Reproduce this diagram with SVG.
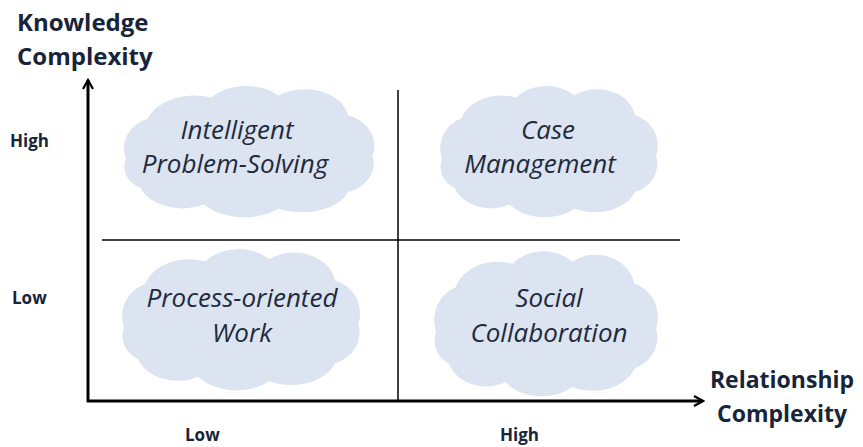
<svg xmlns="http://www.w3.org/2000/svg" width="863" height="447" viewBox="0 0 863 447">
<style>
.cloud{fill:#dbe4f0;}
.ct{font-family:"Open Sans","Liberation Sans",sans-serif;font-style:italic;font-size:26px;fill:#1f2a3c;text-anchor:middle;}
.ax{font-family:"Open Sans","Liberation Sans",sans-serif;font-weight:bold;font-size:24px;fill:#17243a;}
.axr{font-family:"Open Sans","Liberation Sans",sans-serif;font-weight:bold;font-size:23px;fill:#17243a;text-anchor:middle;}
.tk{font-family:"Open Sans","Liberation Sans",sans-serif;font-weight:bold;font-size:17px;fill:#17243a;}
.ln{stroke:#000;stroke-width:1.5;fill:none;}
.axis{stroke:#000;stroke-width:3;fill:none;}
</style>
<defs>
<path id="cl" d="M -100,8 A 30 30 0 0 1 -82,-30 A 40 32 0 0 1 -30,-50 A 36 28 0 0 1 25,-52 A 36 30 0 0 1 82,-33 A 28 30 0 0 1 102,6 A 30 28 0 0 1 82,40 A 40 28 0 0 1 25,56 A 40 28 0 0 1 -36,52 A 36 28 0 0 1 -88,36 A 22 22 0 0 1 -100,8 Z"/>
<marker id="ah" viewBox="0 0 12 12" refX="10" refY="6" markerWidth="12" markerHeight="12" markerUnits="userSpaceOnUse" orient="auto">
<path d="M 1,1 L 10,6 L 1,11" fill="none" stroke="#000" stroke-width="2.2"/>
</marker>
</defs>
<g id="connectors">
<line class="axis" x1="88" y1="402" x2="88" y2="80" marker-end="url(#ah)"/>
<line class="axis" x1="87" y1="401" x2="703" y2="401" marker-end="url(#ah)"/>
<line class="ln" x1="398" y1="90" x2="398" y2="401"/>
<line class="ln" x1="102" y1="240" x2="680" y2="240"/>
</g>
<g id="axis-y-label">
<text class="ax" x="17" y="31">Knowledge</text>
<text class="ax" x="17" y="65">Complexity</text>
</g>
<g id="axis-x-label">
<text class="axr" x="782" y="388">Relationship</text>
<text class="axr" x="782" y="422">Complexity</text>
</g>
<g id="ticks">
<text class="tk" x="10" y="147">High</text>
<text class="tk" x="12" y="304">Low</text>
<text class="tk" x="185" y="441">Low</text>
<text class="tk" x="500" y="441">High</text>
</g>
<g id="node-intelligent">
<use href="#cl" class="cloud" transform="translate(248,150) scale(1.22,1.05)"/>
<text class="ct" x="237" y="139">Intelligent</text>
<text class="ct" x="235" y="173">Problem-Solving</text>
</g>
<g id="node-case">
<use href="#cl" class="cloud" transform="translate(548,150) scale(1.06,1.05)"/>
<text class="ct" x="548" y="139">Case</text>
<text class="ct" x="540" y="173">Management</text>
</g>
<g id="node-process">
<use href="#cl" class="cloud" transform="translate(240,318) scale(1.16,1.13)"/>
<text class="ct" x="242" y="307">Process-oriented</text>
<text class="ct" x="242" y="342">Work</text>
</g>
<g id="node-social">
<use href="#cl" class="cloud" transform="translate(545,322) scale(1.09,1.16)"/>
<text class="ct" x="549" y="307">Social</text>
<text class="ct" x="549" y="342">Collaboration</text>
</g>
</svg>
